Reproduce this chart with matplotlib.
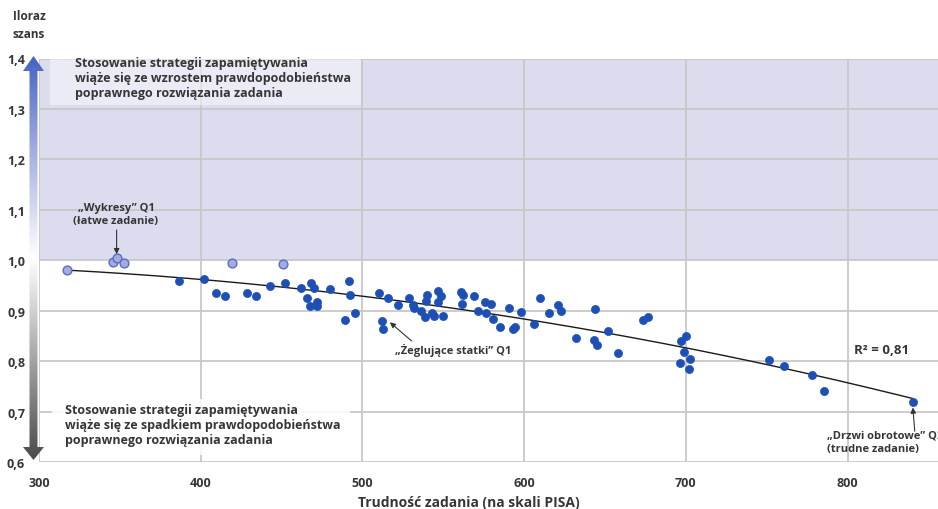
import numpy as np
import matplotlib.pyplot as plt
from matplotlib.patches import Rectangle, Polygon
from matplotlib.colors import LinearSegmentedColormap

plt.rcParams['font.family'] = ['Open Sans', 'DejaVu Sans']

# easy items (odds ratio around 1)
light_x = [317.5, 345.6, 348.0, 352.6, 419.2, 450.9]
light_y = [0.980, 0.997, 1.004, 0.995, 0.995, 0.993]

# remaining items
dark_x = [386.8, 401.8, 409.3, 415.2, 428.6, 434.0, 443.0, 452.3, 462.0, 468.0,
          470.3, 465.6, 467.4, 471.7, 472.1, 480.2, 491.5, 492.1, 489.2, 495.2,
          510.5, 515.6, 522.0, 512.1, 512.9, 529.0, 531.5, 532.1, 536.4, 538.9,
          540.0, 539.3, 543.0, 544.1, 549.6, 546.8, 548.4, 546.8, 561.2, 562.2,
          561.8, 569.0, 571.7, 575.8, 579.3, 576.4, 580.8, 584.9, 590.8, 598.0,
          593.3, 594.6, 605.9, 609.6, 615.2, 621.1, 623.0, 644.0, 632.1, 643.4,
          644.9, 652.1, 658.1, 673.4, 676.8, 696.8, 699.9, 698.6, 702.4, 696.4,
          701.8, 751.4, 760.5, 778.0, 785.5, 840.3]
dark_y = [0.959, 0.962, 0.936, 0.930, 0.936, 0.930, 0.949, 0.955, 0.945, 0.955,
          0.945, 0.925, 0.910, 0.918, 0.910, 0.943, 0.959, 0.931, 0.881, 0.895,
          0.935, 0.925, 0.912, 0.880, 0.864, 0.925, 0.911, 0.905, 0.899, 0.887,
          0.932, 0.920, 0.896, 0.889, 0.889, 0.939, 0.930, 0.918, 0.937, 0.932,
          0.914, 0.930, 0.899, 0.918, 0.914, 0.895, 0.883, 0.868, 0.905, 0.897,
          0.863, 0.867, 0.874, 0.925, 0.895, 0.912, 0.899, 0.903, 0.846, 0.841,
          0.832, 0.860, 0.817, 0.881, 0.887, 0.840, 0.850, 0.819, 0.804, 0.796,
          0.784, 0.803, 0.791, 0.772, 0.741, 0.719]

xticks = [300, 400, 500, 600, 700, 800]
yticks = [0.6, 0.7, 0.8, 0.9, 1.0, 1.1, 1.2, 1.3, 1.4]

W, H = 938, 510
fig = plt.figure(figsize=(W / 100, H / 100), dpi=100)


def fx(x):
    return x / W


def fy(y):
    return 1 - y / H


txt = '#363636'
ax = fig.add_axes([fx(39), fy(463), fx(938 - 39), (463 - 59.5) / H])
ax.set_xlim(300, 300 + (938 - 39) / 1.617)
ax.set_ylim(0.6, 1.4)
ax.axhspan(1.0, 1.4, color='#dcdcef', zorder=0, lw=0)
ax.grid(True, color='#c8c8c8', lw=1.3, zorder=1)
ax.set_axisbelow(True)
for s in ax.spines.values():
    s.set_visible(False)
ax.set_xticks(xticks)
ax.set_yticks(yticks)
ax.set_yticklabels([f'{v:.1f}'.replace('.', ',') for v in yticks])
ax.tick_params(length=0, labelsize=9, labelcolor=txt)
ax.tick_params(axis='y', pad=10)
ax.tick_params(axis='x', pad=10)
for lab in ax.get_xticklabels() + ax.get_yticklabels():
    lab.set_fontweight('bold')

# text boxes
ax.add_patch(Rectangle((fx(50), fy(106)), fx(311), (106 - 57) / H, transform=fig.transFigure,
                       facecolor='white', alpha=0.45, lw=0, zorder=2, clip_on=False))
ax.add_patch(Rectangle((fx(52), fy(456)), fx(298), (456 - 400) / H, transform=fig.transFigure,
                       facecolor='white', alpha=0.85, lw=0, zorder=2, clip_on=False))
fig.text(fx(75), fy(57), 'Stosowanie strategii zapamiętywania\nwiąże się ze wzrostem prawdopodobieństwa\npoprawnego rozwiązania zadania',
         fontsize=9, fontweight='bold', color=txt, va='top', linespacing=1.2, zorder=5)
fig.text(fx(65), fy(404), 'Stosowanie strategii zapamiętywania\nwiąże się ze spadkiem prawdopodobieństwa\npoprawnego rozwiązania zadania',
         fontsize=9, fontweight='bold', color=txt, va='top', linespacing=1.2, zorder=5)

# trend line (2nd degree polynomial over all items)
all_x = np.array(light_x + dark_x)
all_y = np.array(light_y + dark_y)
coef = np.polyfit(all_x, all_y, 2)
xs = np.linspace(all_x.min(), all_x.max(), 200)
ax.plot(xs, np.polyval(coef, xs), color='#1a1a1a', lw=1.0, zorder=3)

ax.scatter(dark_x, dark_y, s=34, color='#1d4fb5', edgecolors='#1d4fb5', lw=0.5, zorder=4)
ax.scatter(light_x, light_y, s=40, color='#a3acdf', edgecolors='#5b6cc2', lw=1.0, zorder=4)

# annotations
arrow = dict(arrowstyle='-|>', color='#333333', lw=0.8, mutation_scale=8, shrinkA=0, shrinkB=0)
ax.annotate('', xy=(348.0, 1.012), xytext=(348.0, 1.060), arrowprops=arrow, zorder=5)
fig.text(fx(116), fy(215), '„Wykresy” Q1\n(łatwe zadanie)', fontsize=8, fontweight='bold',
         color=txt, ha='center', va='center', linespacing=1.2)
ax.annotate('', xy=(517.0, 0.877), xytext=(530.4, 0.840), arrowprops=arrow, zorder=5)
fig.text(fx(453), fy(350), '„Żeglujące statki” Q1', fontsize=8, fontweight='bold',
         color=txt, ha='center', va='center')
ax.annotate('', xy=(840.4, 0.708), xytext=(841.6, 0.661), arrowprops=arrow, zorder=5,
            annotation_clip=False)
fig.text(fx(827), fy(442.5), '„Drzwi obrotowe” Q2\n(trudne zadanie)', fontsize=8, fontweight='bold',
         color=txt, ha='left', va='center', linespacing=1.3)
fig.text(fx(854), fy(350), 'R² = 0,81', fontsize=9.5, fontweight='bold', color=txt, ha='left', va='center')

# axis titles
fig.text(fx(29), fy(17), 'Iloraz', fontsize=8.5, fontweight='bold', color=txt, ha='center', va='center')
fig.text(fx(29), fy(34), 'szans', fontsize=8.5, fontweight='bold', color=txt, ha='center', va='center')
fig.text(fx(469), fy(503), 'Trudność zadania (na skali PISA)', fontsize=10, fontweight='bold',
         color=txt, ha='center', va='center')

# gradient double arrow along the y axis
ov = fig.add_axes([0, 0, 1, 1], zorder=10)
ov.set_xlim(0, W)
ov.set_ylim(H, 0)
ov.axis('off')
cmap = LinearSegmentedColormap.from_list('arr', [(0.0, '#4563c4'), (0.25, '#a9b3e2'), (0.5, '#ffffff'),
                                                 (0.75, '#a6a6a6'), (1.0, '#4a4a4a')])
grad = np.linspace(0, 1, 256).reshape(-1, 1)
im = ov.imshow(grad, cmap=cmap, extent=[23, 44, 461, 57], aspect='auto', origin='upper')
shape = Polygon([(33.5, 57), (44, 72), (37.5, 72), (37.5, 448), (44, 448), (33.5, 461),
                 (23, 448), (29.5, 448), (29.5, 72), (23, 72)], closed=True, transform=ov.transData,
                facecolor='none', edgecolor='none')
ov.add_patch(shape)
im.set_clip_path(shape)

fig.savefig('out.png', dpi=100)
